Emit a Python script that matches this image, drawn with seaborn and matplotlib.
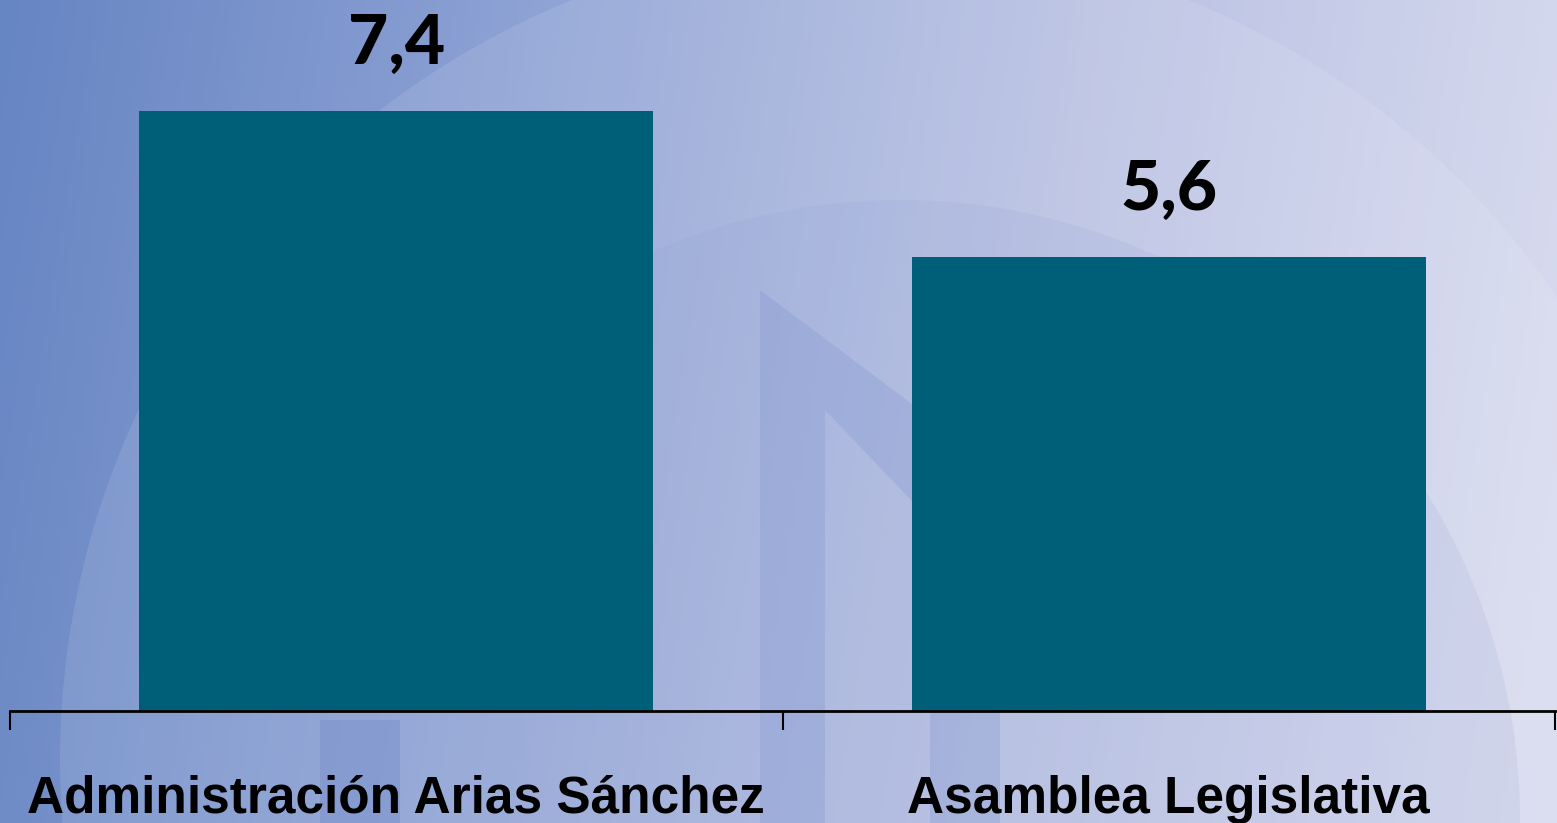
import numpy as np
import pandas as pd
import seaborn as sns
import matplotlib.pyplot as plt
from matplotlib.colors import LinearSegmentedColormap
from matplotlib.patches import Circle, Polygon

# data
categorias = ["Administración Arias Sánchez", "Asamblea Legislativa"]
valores = [7.4, 5.6]
etiquetas = ["7,4", "5,6"]

df = pd.DataFrame({"cat": categorias, "val": valores})

sns.set_theme(style="white")
plt.rcParams['font.family'] = ['Liberation Sans', 'DejaVu Sans']

fig = plt.figure(figsize=(15.57, 8.23), dpi=100)

# background gradient (left darker blue -> right pale lavender)
bg = fig.add_axes([0, 0, 1, 1], zorder=0)
W, H = 400, 212
xx, yy = np.meshgrid(np.linspace(0, 1, W), np.linspace(0, 1, H))
t = np.clip(0.95 * xx + 0.08 * yy, 0, 1)
cmap = LinearSegmentedColormap.from_list("bgc", ["#6685c3", "#8fa3d5", "#b9c1e3", "#d8dbef"])
bg.imshow(t, cmap=cmap, extent=[0, 1557, 823, 0], aspect="auto", vmin=0, vmax=1)
# faint watermark shapes
bg.add_patch(Circle((880, 760), 820, facecolor="white", alpha=0.10, edgecolor="none"))
bg.add_patch(Circle((900, 820), 620, facecolor="#8fa0d4", alpha=0.15, edgecolor="none"))
bg.add_patch(Polygon([(760, 290), (1000, 470), (1000, 823), (930, 823), (930, 520),
                      (825, 410), (825, 823), (760, 823)],
                     closed=True, facecolor="#8096cf", alpha=0.3, edgecolor="none"))
bg.add_patch(Polygon([(320, 720), (400, 720), (400, 823), (320, 823)],
                     closed=True, facecolor="#7a92cc", alpha=0.5, edgecolor="none"))
bg.set_xlim(0, 1557)
bg.set_ylim(823, 0)
bg.axis("off")

ax = fig.add_axes([10 / 1557, 1 - 711 / 823, 1545 / 1557, 711 / 823], zorder=1)
ax.patch.set_alpha(0)
sns.barplot(data=df, x="cat", y="val", color="#005f78", saturation=1, width=0.666,
            linewidth=0, ax=ax)

ax.set_ylim(0, 8.77)
ax.set_xlim(-0.5, 1.5)
ax.set_xlabel("")
ax.set_ylabel("")
ax.set_yticks([])
for s in ["top", "right", "left"]:
    ax.spines[s].set_visible(False)
ax.spines["bottom"].set_linewidth(2)
ax.spines["bottom"].set_color("black")

ax.set_xticks([0, 1])
ax.set_xticklabels(categorias, fontsize=37, fontweight="bold", color="black")
ax.tick_params(axis="x", which="major", length=0, pad=46)
ax.set_xticks([-0.5, 0.5, 1.5], minor=True)
ax.tick_params(axis="x", which="minor", length=14, width=1.5, color="black", direction="out", bottom=True)

for i, (v, lab) in enumerate(zip(valores, etiquetas)):
    ax.annotate(lab, (i, v), xytext=(0, 25), textcoords="offset points",
                ha="center", va="bottom", fontsize=50, fontweight="black",
                family=["Lato", "DejaVu Sans"], color="black")

fig.savefig("out.png", dpi=100)
